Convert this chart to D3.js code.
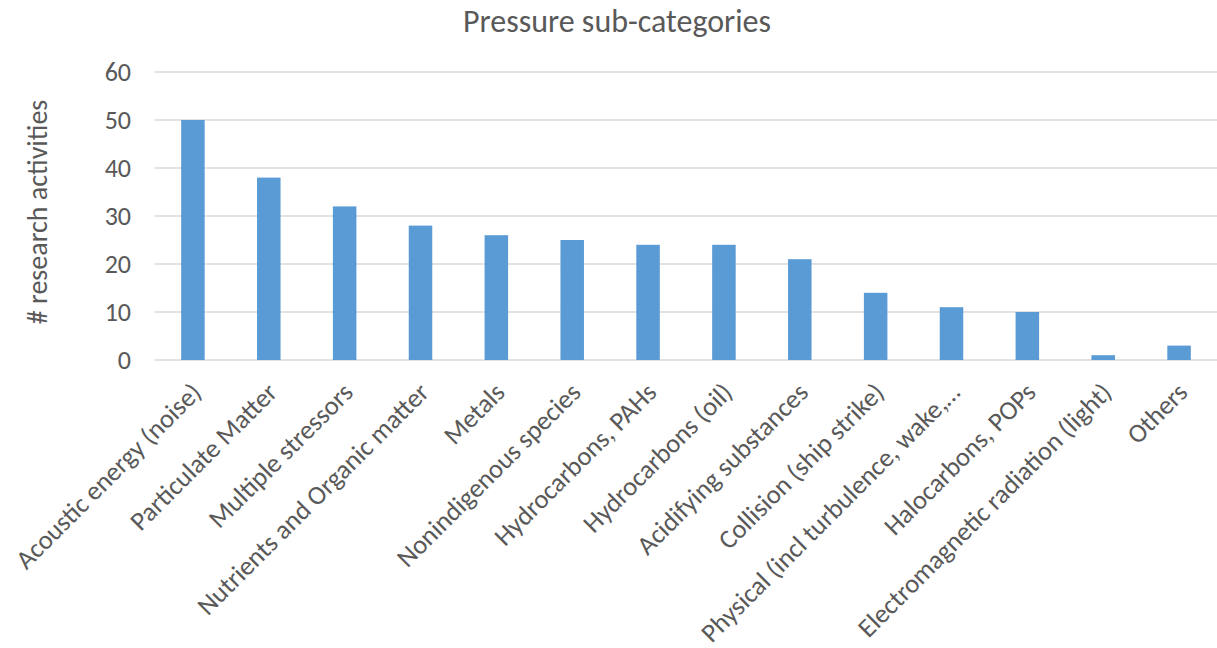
<!DOCTYPE html>
<html>
<head>
<meta charset="utf-8">
<script src="https://cdn.jsdelivr.net/npm/d3@7"></script>
<style>
  body { margin: 0; background: #fff; }
  text { font-family: Calibri, Carlito, "Liberation Sans", sans-serif; fill: #595959; }
</style>
</head>
<body>
<svg id="chart" width="1217" height="648"></svg>
<script>
// data
var categories = ["Acoustic energy (noise)", "Particulate Matter", "Multiple stressors",
    "Nutrients and Organic matter", "Metals", "Nonindigenous species", "Hydrocarbons, PAHs",
    "Hydrocarbons (oil)", "Acidifying substances", "Collision (ship strike)",
    "Physical (incl turbulence, wake,\u2026", "Halocarbons, POPs",
    "Electromagnetic radiation (light)", "Others"];
var counts = [50, 38, 32, 28, 26, 25, 24, 24, 21, 14, 11, 10, 1, 3];
var yTicks = [0, 10, 20, 30, 40, 50, 60];

var svg = d3.select("#chart"),
    width = +svg.attr("width"),
    height = +svg.attr("height");

var margin = {left: 155, right: 0, top: 72, bottom: 288};

var x = d3.scaleBand()
    .domain(categories)
    .range([margin.left, width - margin.right])
    .paddingInner(0.69)
    .paddingOuter(0.345);

var y = d3.scaleLinear()
    .domain([0, 60])
    .range([height - margin.bottom, margin.top]);

// gridlines
svg.append("g")
    .selectAll("line")
    .data(yTicks).enter()
    .append("line")
    .attr("x1", margin.left)
    .attr("x2", width - margin.right)
    .attr("y1", function(d) { return y(d); })
    .attr("y2", function(d) { return y(d); })
    .attr("stroke", "#d9d9d9")
    .attr("stroke-width", 1.5);

// y tick labels
svg.append("g")
    .selectAll("text")
    .data(yTicks).enter()
    .append("text")
    .attr("x", 131)
    .attr("y", function(d) { return y(d); })
    .attr("dy", "0.35em")
    .attr("text-anchor", "end")
    .style("font-size", "26px")
    .text(function(d) { return d; });

// bars
svg.append("g")
    .selectAll("rect")
    .data(counts).enter()
    .append("rect")
    .attr("x", function(d, i) { return x(categories[i]); })
    .attr("width", x.bandwidth())
    .attr("y", function(d) { return y(d); })
    .attr("height", function(d) { return y(0) - y(d); })
    .attr("fill", "#5b9bd5");

// x labels, rotated
svg.append("g")
    .selectAll("text")
    .data(categories).enter()
    .append("text")
    .attr("transform", function(d) {
        var cx = x(d) + x.bandwidth() / 2 + 10;
        return "translate(" + cx + "," + 394 + ") rotate(-45)";
    })
    .attr("text-anchor", "end")
    .style("font-size", "26.5px")
    .text(function(d) { return d; });

// axis title
svg.append("text")
    .attr("transform", "translate(47," + 212 + ") rotate(-90)")
    .attr("text-anchor", "middle")
    .style("font-size", "28px")
    .text("# research activities");

// chart title
svg.append("text")
    .attr("x", 617)
    .attr("y", 32)
    .attr("text-anchor", "middle")
    .style("font-size", "32px")
    .text("Pressure sub-categories");
</script>
</body>
</html>
